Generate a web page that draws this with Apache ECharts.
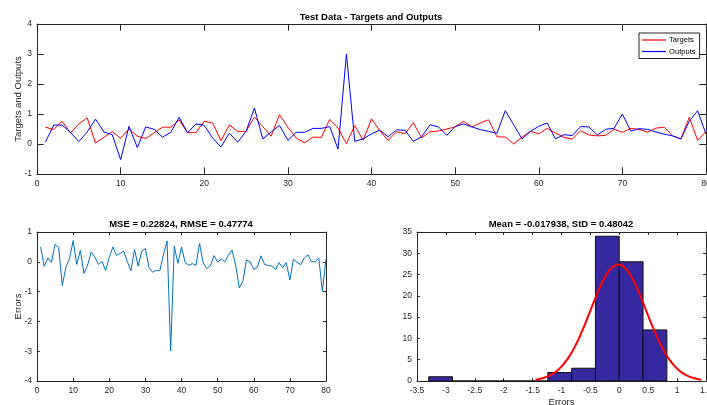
<!DOCTYPE html>
<html>
<head>
<meta charset="utf-8">
<script src="https://cdn.jsdelivr.net/npm/echarts@6/dist/echarts.min.js"></script>
<style>
html,body{margin:0;padding:0;background:#fff;}
#main{width:707px;height:405px;}
</style>
</head>
<body>
<div id="main"></div>
<script>
// ---------- data ----------
const sampleIndex = Array.from({length: 80}, (_, i) => i + 1);
const targets = [0.56,0.48,0.76,0.37,0.67,0.87,0.03,0.22,0.41,0.19,
  0.50,0.26,0.18,0.37,0.56,0.56,0.80,0.38,0.38,0.76,
  0.70,0.11,0.64,0.42,0.42,0.90,0.58,0.26,0.98,0.56,
  0.20,0.04,0.23,0.22,0.82,0.53,0.01,0.61,0.12,0.84,
  0.44,0.12,0.41,0.34,0.71,0.20,0.41,0.43,0.50,0.57,
  0.76,0.57,0.70,0.81,0.24,0.23,0.00,0.23,0.42,0.34,
  0.52,0.37,0.22,0.16,0.44,0.30,0.27,0.29,0.49,0.39,
  0.52,0.49,0.39,0.53,0.56,0.27,0.17,0.89,0.12,0.42];
const outputs = [0.06,0.63,0.63,0.39,0.08,0.40,0.83,0.40,0.31,-0.52,
  0.59,-0.12,0.57,0.49,0.23,0.39,0.89,0.37,0.67,0.62,
  0.20,-0.10,0.36,0.06,0.42,1.20,0.17,0.40,0.62,0.12,
  0.39,0.39,0.52,0.52,0.58,-0.17,3.00,0.09,0.17,0.34,
  0.46,0.24,0.47,0.46,0.09,0.24,0.64,0.57,0.29,0.58,
  0.67,0.57,0.48,0.42,0.36,1.11,0.64,0.17,0.42,0.59,
  0.70,0.17,0.31,0.28,0.58,0.57,0.30,0.49,0.52,1.00,
  0.43,0.51,0.49,0.40,0.33,0.27,0.17,0.76,1.11,0.33];
const errors = [0.50,-0.15,0.13,-0.02,0.59,0.47,-0.80,-0.18,0.10,0.71,
  -0.09,0.38,-0.39,-0.12,0.33,0.17,-0.09,0.01,-0.29,0.14,
  0.50,0.21,0.28,0.36,0.00,-0.30,0.41,-0.14,0.36,0.44,
  -0.19,-0.35,-0.29,-0.30,0.24,0.70,-2.99,0.52,-0.05,0.50,
  -0.02,-0.12,-0.06,-0.12,0.62,-0.04,-0.23,-0.14,0.21,-0.01,
  0.09,0.00,0.22,0.39,-0.12,-0.88,-0.64,0.06,0.00,-0.25,
  -0.18,0.20,-0.09,-0.12,-0.14,-0.27,-0.03,-0.20,-0.03,-0.61,
  0.09,-0.02,-0.10,0.13,0.23,0.00,0.00,0.13,-0.99,0.09];
const binEdges = [-3.297,-2.885,-2.473,-2.061,-1.649,-1.237,-0.825,-0.413,-0.001,0.411,0.823];
const binCounts = [1,0,0,0,0,2,3,34,28,12];
const fitX = [-1.45,-1.35,-1.25,-1.15,-1.05,-0.95,-0.85,-0.75,-0.65,-0.55,-0.45,-0.35,-0.25,-0.15,-0.05,-0.02,
  0.05,0.15,0.25,0.35,0.45,0.55,0.65,0.75,0.85,0.95,1.05,1.15,1.25,1.35,1.42];
const fitY = [0.32,0.59,1.02,1.71,2.72,4.17,6.11,8.57,11.52,14.82,18.27,21.56,24.36,26.36,27.31,27.37,
  27.10,25.75,23.43,20.41,17.03,13.61,10.41,7.63,5.35,3.60,2.31,1.42,0.84,0.48,0.30];

const titleTop = 'Test Data - Targets and Outputs';
const titleErr = 'MSE = 0.22824, RMSE = 0.47774';
const titleHist = 'Mean = -0.017938, StD = 0.48042';

// ---------- styling helpers ----------
const FONT = '"Liberation Sans", Arial, sans-serif';
const AX = '#262626';
function axis(opts, tickLen, showLabel) {
  return Object.assign({
    type: 'value',
    nameMoveOverlap: false,
    axisLine: {show: true, onZero: false, lineStyle: {color: AX, width: 1}},
    axisTick: {show: true, inside: true, length: tickLen, lineStyle: {color: AX, width: 1}},
    axisLabel: {show: showLabel, color: AX, fontSize: 8.5, fontFamily: FONT, margin: 5,
                hideOverlap: false, showMinLabel: true, showMaxLabel: true},
    splitLine: {show: false}
  }, opts);
}
const nameStyle = {color: AX, fontSize: 9.5, fontFamily: FONT};

const chart = echarts.init(document.getElementById('main'), null, {renderer: 'canvas'});

const option = {
  animation: false,
  backgroundColor: '#fff',
  grid: [
    {left: 37, top: 24, width: 669, height: 150, containLabel: false, outerBoundsMode: 'none'},
    {left: 37, top: 232, width: 289, height: 149, containLabel: false, outerBoundsMode: 'none'},
    {left: 417, top: 232, width: 289, height: 149, containLabel: false, outerBoundsMode: 'none'}
  ],
  xAxis: [
    axis({gridIndex: 0, position: 'bottom', min: 0, max: 80, interval: 10}, 6.7, true),
    axis({gridIndex: 0, position: 'top', min: 0, max: 80, interval: 10}, 6.7, false),
    axis({gridIndex: 1, position: 'bottom', min: 0, max: 80, interval: 10}, 2.9, true),
    axis({gridIndex: 1, position: 'top', min: 0, max: 80, interval: 10}, 2.9, false),
    axis({gridIndex: 2, position: 'bottom', min: -3.5, max: 1.5, interval: 0.5,
          name: 'Errors', nameLocation: 'middle', nameGap: 16, nameTextStyle: nameStyle}, 2.9, true),
    axis({gridIndex: 2, position: 'top', min: -3.5, max: 1.5, interval: 0.5}, 2.9, false)
  ],
  yAxis: [
    axis({gridIndex: 0, position: 'left', min: -1, max: 4, interval: 1,
          name: 'Targets and Outputs', nameLocation: 'middle', nameGap: 14, nameTextStyle: nameStyle}, 6.7, true),
    axis({gridIndex: 0, position: 'right', min: -1, max: 4, interval: 1}, 6.7, false),
    axis({gridIndex: 1, position: 'left', min: -4, max: 1, interval: 1,
          name: 'Errors', nameLocation: 'middle', nameGap: 14, nameTextStyle: nameStyle}, 2.9, true),
    axis({gridIndex: 1, position: 'right', min: -4, max: 1, interval: 1}, 2.9, false),
    axis({gridIndex: 2, position: 'left', min: 0, max: 35, interval: 5}, 2.9, true),
    axis({gridIndex: 2, position: 'right', min: 0, max: 35, interval: 5}, 2.9, false)
  ],
  legend: {
    left: 639, top: 33,
    orient: 'vertical',
    data: ['Targets', 'Outputs'],
    icon: 'rect',
    backgroundColor: '#fff',
    borderColor: AX, borderWidth: 1,
    padding: [3, 4, 3, 3],
    itemWidth: 24, itemHeight: 1.2, itemGap: 3.5,
    textStyle: {fontSize: 7.6, fontFamily: FONT, color: '#000', padding: [0, 0, 0, -2]}
  },
  graphic: [
    {type: 'text', x: 371, y: 17, style: {text: titleTop, textAlign: 'center', textVerticalAlign: 'middle',
      font: 'bold 9.5px ' + FONT, fill: '#000'}},
    {type: 'text', x: 181, y: 224.5, style: {text: titleErr, textAlign: 'center', textVerticalAlign: 'middle',
      font: 'bold 9.5px ' + FONT, fill: '#000'}},
    {type: 'text', x: 561, y: 224.5, style: {text: titleHist, textAlign: 'center', textVerticalAlign: 'middle',
      font: 'bold 9.5px ' + FONT, fill: '#000'}}
  ],
  series: [
    {name: 'Targets', type: 'line', xAxisIndex: 0, yAxisIndex: 0, symbol: 'none',
     lineStyle: {color: '#FF0000', width: 1}, itemStyle: {color: '#FF0000'},
     data: sampleIndex.map((x, i) => [x, targets[i]])},
    {name: 'Outputs', type: 'line', xAxisIndex: 0, yAxisIndex: 0, symbol: 'none',
     lineStyle: {color: '#0000FF', width: 1}, itemStyle: {color: '#0000FF'},
     data: sampleIndex.map((x, i) => [x, outputs[i]])},
    {name: 'Errors', type: 'line', xAxisIndex: 2, yAxisIndex: 2, symbol: 'none',
     lineStyle: {color: '#0072BD', width: 1}, itemStyle: {color: '#0072BD'},
     data: sampleIndex.map((x, i) => [x, errors[i]])},
    {name: 'Histogram', type: 'custom', xAxisIndex: 4, yAxisIndex: 4,
     encode: {x: [0, 1], y: 2},
     data: binCounts.map((c, i) => [binEdges[i], binEdges[i + 1], c]),
     renderItem: function (params, api) {
       const p0 = api.coord([api.value(0), api.value(2)]);
       const p1 = api.coord([api.value(1), 0]);
       return {type: 'rect', shape: {x: p0[0], y: p0[1], width: p1[0] - p0[0], height: p1[1] - p0[1]},
               style: {fill: '#3629A0', stroke: '#111', lineWidth: 1}};
     }},
    {name: 'Fit', type: 'line', xAxisIndex: 4, yAxisIndex: 4, symbol: 'none', smooth: true,
     lineStyle: {color: '#FF0000', width: 2},
     data: fitX.map((x, i) => [x, fitY[i]])}
  ]
};
chart.setOption(option);
</script>
</body>
</html>
